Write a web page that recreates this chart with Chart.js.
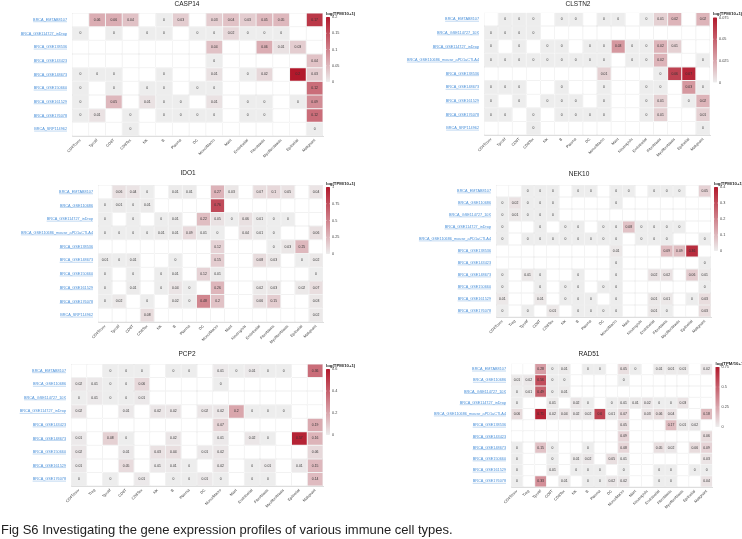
<!DOCTYPE html>
<html>
<head>
<meta charset="utf-8">
<script src="https://cdn.jsdelivr.net/npm/chart.js@4.4.1/dist/chart.umd.min.js"></script>
<style>
html, body { margin: 0; padding: 0; background: #fff; }
body { width: 742px; height: 539px; position: relative; overflow: hidden; font-family: "Liberation Sans", Arial, sans-serif; }
canvas { position: absolute; }
#caption { position: absolute; left: 1px; top: 522px; font-size: 13px; line-height: 15px; color: #222; white-space: nowrap; }
</style>
</head>
<body>
<canvas id="casp14"></canvas>
<canvas id="clstn2"></canvas>
<canvas id="ido1"></canvas>
<canvas id="nek10"></canvas>
<canvas id="pcp2"></canvas>
<canvas id="rad51"></canvas>
<div id="caption">Fig S6 Investigating the gene expression profiles of various immune cell types.</div>
<script>
const _ = null; // no cells of that type in the dataset

// cell type columns
const cells15 = ['CD4Tconv', 'Tprolif', 'CD8T', 'CD8Tex', 'NK', 'B', 'Plasma', 'DC', 'Mono/Macro', 'Mast',
    'Endothelial', 'Fibroblasts', 'Myofibroblasts', 'Epithelial', 'Malignant'];
const cells16 = ['CD4Tconv', 'Tprolif', 'CD8T', 'CD8Tex', 'NK', 'B', 'Plasma', 'DC', 'Mono/Macro', 'Mast',
    'Neutrophils', 'Endothelial', 'Fibroblasts', 'Myofibroblasts', 'Epithelial', 'Malignant'];
const cells16Treg = ['CD4Tconv', 'Treg', 'Tprolif', 'CD8T', 'CD8Tex', 'NK', 'B', 'Plasma', 'DC', 'Mono/Macro', 'Mast',
    'Endothelial', 'Fibroblasts', 'Myofibroblasts', 'Epithelial', 'Malignant'];
const cells17 = ['CD4Tconv', 'Treg', 'Tprolif', 'CD8T', 'CD8Tex', 'NK', 'B', 'Plasma', 'DC', 'Mono/Macro', 'Mast',
    'Neutrophils', 'Endothelial', 'Fibroblasts', 'Myofibroblasts', 'Epithelial', 'Malignant'];

// CASP14
const casp14Samples = ['BRCA_EMTAB8107', 'BRCA_GSE114727_inDrop', 'BRCA_GSE138536', 'BRCA_GSE143423', 'BRCA_GSE148673',
    'BRCA_GSE150660', 'BRCA_GSE161529', 'BRCA_GSE176078', 'BRCA_SRP114962'];
const casp14Values = [
    [_, 0.06, 0.06, 0.04, _, 0, 0.03, _, 0.03, 0.04, 0.03, 0.05, 0.05, _, 0.17],
    [0, _, 0, _, 0, 0, _, 0, 0, 0.02, 0, 0, 0, _, _],
    [_, _, _, _, _, _, _, _, 0.04, _, _, 0.06, 0.01, 0.03, _],
    [_, _, _, _, _, _, _, _, 0, _, _, _, _, _, 0.04],
    [0, 0, 0, _, _, 0, _, _, 0.01, _, 0, 0.02, _, 0.2, 0.03],
    [0, _, 0, _, 0, 0, _, 0, 0, _, _, _, _, _, 0.12],
    [0, _, 0.05, _, 0.01, 0, 0, _, 0.01, _, 0, 0, _, 0, 0.09],
    [0, 0.01, _, 0, _, 0, 0, 0, 0, _, 0, 0, _, _, 0.12],
    [_, _, _, 0, _, _, _, _, _, _, _, _, _, _, 0]
];
const casp14Ticks = [0, 0.05, 0.1, 0.15, 0.2];

// CLSTN2
const clstn2Samples = ['BRCA_EMTAB8107', 'BRCA_GSE114727_10X', 'BRCA_GSE114727_inDrop', 'BRCA_GSE110686_mouse_aPD1aCTLA4',
    'BRCA_GSE138536', 'BRCA_GSE148673', 'BRCA_GSE161529', 'BRCA_GSE176078', 'BRCA_SRP114962'];
const clstn2Values = [
    [_, 0, 0, 0, _, 0, 0, _, 0, 0, _, 0, 0.01, 0.02, _, 0.02],
    [0, 0, 0, 0, _, _, _, _, _, _, _, _, _, _, _, _],
    [0, _, 0, _, 0, 0, _, 0, 0, 0.03, 0, 0, 0.02, 0.01, _, _],
    [0, 0, 0, 0, 0, 0, 0, 0, 0, _, 0, 0, 0.02, _, _, 0],
    [_, _, _, _, _, _, _, _, 0.01, _, _, _, 0, 0.06, 0.07, _],
    [0, 0, 0, _, _, 0, _, _, 0, _, _, 0, 0, _, 0.03, 0],
    [0, _, 0, _, 0, 0, 0, _, 0, _, _, 0, 0.01, _, 0, 0.02],
    [0, 0, _, 0, _, 0, 0, 0, 0, _, _, 0, 0.01, _, _, 0.01],
    [_, _, _, 0, _, _, _, _, _, _, _, _, _, _, _, 0]
];
const clstn2Ticks = [0, 0.025, 0.05, 0.075];

// IDO1
const ido1Samples = ['BRCA_EMTAB8107', 'BRCA_GSE110686', 'BRCA_GSE114727_inDrop', 'BRCA_GSE110686_mouse_aPD1aCTLA4',
    'BRCA_GSE138536', 'BRCA_GSE148673', 'BRCA_GSE150660', 'BRCA_GSE161529', 'BRCA_GSE176078', 'BRCA_SRP114962'];
const ido1Values = [
    [_, 0.06, 0.04, 0, _, 0.01, 0.01, _, 0.27, 0.03, _, 0.07, 0.1, 0.05, _, 0.04],
    [0, 0.01, 0, 0.01, _, _, _, _, 0.76, _, _, _, _, _, _, _],
    [0, _, 0, _, 0, 0.01, _, 0.22, 0.05, 0, 0.06, 0.01, 0, 0, _, _],
    [0, 0, 0, 0, 0.01, 0.01, 0.09, 0.01, 0, _, 0.04, 0.01, 0, _, _, 0.06],
    [_, _, _, _, _, _, _, _, 0.12, _, _, _, 0, 0.03, 0.25, _],
    [0.01, 0, 0.01, _, _, 0, _, _, 0.15, _, _, 0.08, 0.03, _, 0, 0.02],
    [0, _, 0, _, 0, 0.01, _, 0.12, 0.01, _, _, _, _, _, _, 0],
    [0, _, 0.01, _, 0, 0.04, 0, _, 0.26, _, _, 0.02, 0.03, _, 0.02, 0.07],
    [0, 0.02, _, 0, _, 0.02, 0, 0.48, 0.2, _, _, 0.06, 0.15, _, _, 0.03],
    [_, _, _, 0.08, _, _, _, _, _, _, _, _, _, _, _, 0.02]
];
const ido1Ticks = [0, 0.25, 0.5, 0.75, 1];

// NEK10
const nek10Samples = ['BRCA_EMTAB8107', 'BRCA_GSE110686', 'BRCA_GSE114727_10X', 'BRCA_GSE114727_inDrop',
    'BRCA_GSE110686_mouse_aPD1aCTLA4', 'BRCA_GSE138536', 'BRCA_GSE143423', 'BRCA_GSE148673', 'BRCA_GSE150660',
    'BRCA_GSE161529', 'BRCA_GSE176078'];
const nek10Values = [
    [_, _, 0, 0, 0, _, 0, 0, _, 0, 0, _, 0, 0, 0, _, 0.05],
    [0, 0.02, 0, 0, 0, _, _, _, _, 0, _, _, _, _, _, _, _],
    [0, 0.01, 0, 0, 0, _, _, _, _, _, _, _, _, _, _, _, _],
    [0, _, _, 0, _, 0, 0, _, 0, 0, 0.08, 0, 0, 0, 0, _, _],
    [0, _, 0, 0, 0, 0, 0, 0, 0, 0, _, 0, 0, 0, _, _, 0],
    [_, _, _, _, _, _, _, _, _, 0.01, _, _, _, 0.09, 0.09, 0.36, _],
    [_, _, _, _, _, _, _, _, _, 0, _, _, _, _, _, _, 0],
    [0, _, 0.01, 0, _, _, 0, _, _, 0, _, _, 0.02, 0.02, _, 0.06, 0.01],
    [0, _, _, 0, _, 0, 0, _, 0, 0, _, _, _, _, _, _, 0],
    [0.01, _, _, 0.01, _, 0, 0, 0, _, 0, _, _, 0.01, 0.01, _, 0, 0.03],
    [0, _, 0, _, 0.01, _, 0, 0, 0, 0, _, _, 0.01, 0, _, _, 0.03]
];
const nek10Ticks = [0, 0.1, 0.2, 0.3, 0.4];

// PCP2
const pcp2Samples = ['BRCA_EMTAB8107', 'BRCA_GSE110686', 'BRCA_GSE114727_10X', 'BRCA_GSE114727_inDrop', 'BRCA_GSE143423',
    'BRCA_GSE148673', 'BRCA_GSE150660', 'BRCA_GSE161529', 'BRCA_GSE176078'];
const pcp2Values = [
    [_, _, 0, 0, 0, _, 0, 0, _, 0.01, 0, 0.01, 0, 0, _, 0.36],
    [0.02, 0.01, 0, 0, 0.06, _, _, _, _, 0, _, _, _, _, _, _],
    [0, 0.01, 0, 0, 0.01, _, _, _, _, _, _, _, _, _, _, _],
    [0.02, _, _, 0.01, _, 0.02, 0.02, _, 0.02, 0.02, 0.2, 0, 0, 0, _, _],
    [_, _, _, _, _, _, _, _, _, 0.07, _, _, _, _, _, 0.19],
    [0.01, _, 0.08, 0, _, _, 0.02, _, _, 0.01, _, 0.02, 0, _, 0.57, 0.16],
    [0.02, _, _, 0.01, _, 0.03, 0.04, _, 0.01, 0.02, _, _, _, _, _, 0.06],
    [0.01, _, _, 0.05, _, 0.01, 0.01, 0, _, 0.02, _, 0, 0.01, _, 0.01, 0.15],
    [0, _, 0, _, 0.01, _, 0, 0, 0.01, 0, _, 0, 0, _, _, 0.14]
];
const pcp2Ticks = [0, 0.2, 0.4, 0.6];

// RAD51
const rad51Samples = nek10Samples.slice();
const rad51Values = [
    [_, _, 0.28, 0, 0.01, _, 0, 0, _, 0.05, 0, _, 0.01, 0.01, 0.01, _, 0.02],
    [0.01, 0.02, 0.56, 0, 0, _, _, _, _, 0, _, _, _, _, _, _, _],
    [0, 0.01, 0.49, 0, 0.01, _, _, _, _, _, _, _, _, _, _, _, _],
    [0, _, _, 0.01, _, 0.02, 0, _, 0, 0.01, 0.01, 0.02, 0, 0, 0.03, _, _],
    [0.06, _, 0.71, 0.02, 0.04, 0.02, 0.02, 0.6, 0.01, 0.07, _, 0.03, 0.06, 0.04, _, _, 0.18],
    [_, _, _, _, _, _, _, _, _, 0.05, _, _, _, 0.17, 0.01, 0.02, _],
    [_, _, _, _, _, _, _, _, _, 0.09, _, _, _, _, _, _, 0.06],
    [0, _, 0.15, 0, _, _, 0, _, _, 0.08, _, _, 0.05, 0.02, _, 0.06, 0.09],
    [0, _, _, 0, _, 0.01, 0.02, _, 0.05, 0.01, _, _, _, _, _, _, 0.03],
    [0, _, _, 0.01, _, 0, 0, 0, _, 0, _, _, 0, 0, _, 0, 0],
    [0, _, 0.33, _, 0.01, _, 0, 0, 0.02, 0.02, _, _, 0, 0, _, _, 0.04]
];
const rad51Ticks = [0, 0.25, 0.5, 0.75];

const FONT = "'Liberation Sans', Arial, sans-serif";
const LOW = [237, 237, 237];
const HIGH = [178, 24, 43];

function cellColor(v, max) {
    if (v === null) return '#ffffff';
    const t = Math.min(v / max, 1);
    const c = LOW.map((lo, i) => Math.round(lo + (HIGH[i] - lo) * t));
    return `rgb(${c[0]},${c[1]},${c[2]})`;
}

const heatExtras = {
    id: 'heatExtras',
    afterDatasetsDraw(chart, args, opts) {
        const ctx = chart.ctx;
        ctx.save();
        ctx.font = `3.4px ${FONT}`;
        ctx.fillStyle = '#333';
        ctx.textAlign = 'center';
        ctx.textBaseline = 'middle';
        chart.data.datasets.forEach((ds, r) => {
            chart.getDatasetMeta(r).data.forEach((bar, c) => {
                const v = opts.values[r][c];
                if (v === null) return;
                const p = bar.getCenterPoint();
                ctx.fillText(String(v), p.x, p.y);
            });
        });
        ctx.restore();
    },
    afterDraw(chart, args, opts) {
        const ctx = chart.ctx;
        const area = chart.chartArea;
        const yScale = chart.scales.y;
        ctx.save();

        // title
        ctx.font = `6.5px ${FONT}`;
        ctx.fillStyle = '#222';
        ctx.textAlign = 'center';
        ctx.textBaseline = 'middle';
        ctx.fillText(opts.title, opts.titleX, opts.titleY);

        // underline the sample names
        ctx.font = `3.8px ${FONT}`;
        ctx.strokeStyle = '#4a90d9';
        ctx.lineWidth = 0.35;
        opts.samples.forEach((s, i) => {
            const y = yScale.getPixelForValue(i + 0.5) + 1.9;
            const xr = area.left - 5;
            const w = ctx.measureText(s).width;
            ctx.beginPath();
            ctx.moveTo(xr - w, y);
            ctx.lineTo(xr, y);
            ctx.stroke();
        });

        // colour bar
        const max = opts.ticks[opts.ticks.length - 1];
        const x0 = area.right + 3;
        const y0 = area.top + opts.barOff;
        const bw = 4, bh = opts.barH;
        const grad = ctx.createLinearGradient(0, y0, 0, y0 + bh);
        grad.addColorStop(0, cellColor(max, max));
        grad.addColorStop(1, cellColor(0, max));
        ctx.fillStyle = grad;
        ctx.fillRect(x0, y0, bw, bh);

        ctx.font = `3.8px ${FONT}`;
        ctx.fillStyle = '#444';
        ctx.textAlign = 'left';
        ctx.textBaseline = 'middle';
        ctx.strokeStyle = '#fff';
        ctx.lineWidth = 0.4;
        opts.ticks.forEach(t => {
            const y = y0 + bh * (1 - t / max);
            ctx.beginPath();
            ctx.moveTo(x0, y); ctx.lineTo(x0 + 0.8, y);
            ctx.moveTo(x0 + bw - 0.8, y); ctx.lineTo(x0 + bw, y);
            ctx.stroke();
            ctx.fillText(String(t), x0 + bw + 2, y);
        });

        ctx.font = `bold 4.3px ${FONT}`;
        ctx.fillStyle = '#222';
        ctx.textBaseline = 'alphabetic';
        ctx.fillText('log(TPM/10+1)', x0, y0 - 2.5);
        ctx.restore();
    }
};

function drawHeatmap(id, box, title, cells, samples, values, ticks) {
    const canvas = document.getElementById(id);
    canvas.width = box.width;
    canvas.height = box.height;
    canvas.style.left = box.left + 'px';
    canvas.style.top = box.top + 'px';
    const max = ticks[ticks.length - 1];

    const datasets = samples.map((s, r) => ({
        label: s,
        data: cells.map(() => [r, r + 1]),
        backgroundColor: values[r].map(v => cellColor(v, max)),
        borderColor: '#e2e2e2',
        borderWidth: 0.5,
        borderSkipped: false,
        inflateAmount: 0,
        barPercentage: 1,
        categoryPercentage: 1,
        grouped: false
    }));

    new Chart(canvas.getContext('2d'), {
        type: 'bar',
        data: { labels: cells, datasets: datasets },
        options: {
            responsive: false,
            animation: false,
            events: [],
            layout: {
                padding: { left: 0, top: box.gridT - box.top, right: box.left + box.width - box.gridR, bottom: 0 }
            },
            plugins: {
                legend: { display: false },
                tooltip: { enabled: false },
                heatExtras: {
                    title: title,
                    titleX: box.titleX - box.left,
                    titleY: box.titleY - box.top,
                    samples: samples,
                    values: values,
                    ticks: ticks,
                    barOff: box.barOff,
                    barH: box.barH
                }
            },
            scales: {
                x: {
                    type: 'category',
                    offset: true,
                    grid: { display: false, drawTicks: false },
                    border: { display: true, color: '#c8c8c8', width: 0.6 },
                    ticks: {
                        autoSkip: false, minRotation: 45, maxRotation: 45, padding: 2,
                        color: '#444', font: { size: 3.8, family: FONT }
                    },
                    afterFit: s => { s.height = box.top + box.height - box.gridB; }
                },
                y: {
                    type: 'linear',
                    min: 0,
                    max: samples.length,
                    reverse: true,
                    grid: { display: false, drawTicks: false },
                    border: { display: false },
                    afterBuildTicks: s => { s.ticks = samples.map((name, i) => ({ value: i + 0.5 })); },
                    ticks: {
                        autoSkip: false, padding: 5, color: '#4a90d9', font: { size: 3.8, family: FONT },
                        callback: v => samples[Math.floor(v)]
                    },
                    afterFit: s => { s.width = box.gridL - box.left; }
                }
            }
        },
        plugins: [heatExtras]
    });
}

drawHeatmap('casp14',
    { left: 0, top: 0, width: 371, height: 170, gridL: 72, gridT: 13, gridR: 323, gridB: 136, titleX: 187, titleY: 4, barOff: 4, barH: 65 },
    'CASP14', cells15, casp14Samples, casp14Values, casp14Ticks);
drawHeatmap('clstn2',
    { left: 371, top: 0, width: 371, height: 170, gridL: 484, gridT: 12.5, gridR: 710, gridB: 135, titleX: 578, titleY: 4, barOff: 5, barH: 65 },
    'CLSTN2', cells16, clstn2Samples, clstn2Values, clstn2Ticks);
drawHeatmap('ido1',
    { left: 0, top: 165, width: 371, height: 180, gridL: 98, gridT: 185, gridR: 323, gridB: 322, titleX: 188, titleY: 173, barOff: 2, barH: 67 },
    'IDO1', cells16, ido1Samples, ido1Values, ido1Ticks);
drawHeatmap('nek10',
    { left: 371, top: 165, width: 371, height: 180, gridL: 496, gridT: 185, gridR: 711, gridB: 317, titleX: 579, titleY: 174, barOff: 2, barH: 64 },
    'NEK10', cells17, nek10Samples, nek10Values, nek10Ticks);
drawHeatmap('pcp2',
    { left: 0, top: 340, width: 371, height: 199, gridL: 71, gridT: 364, gridR: 323, gridB: 486, titleX: 187, titleY: 354, barOff: 5, barH: 66 },
    'PCP2', cells16Treg, pcp2Samples, pcp2Values, pcp2Ticks);
drawHeatmap('rad51',
    { left: 371, top: 340, width: 371, height: 199, gridL: 511, gridT: 363.5, gridR: 712.5, gridB: 487, titleX: 589, titleY: 354, barOff: 3.5, barH: 60 },
    'RAD51', cells17, rad51Samples, rad51Values, rad51Ticks);
</script>
</body>
</html>
